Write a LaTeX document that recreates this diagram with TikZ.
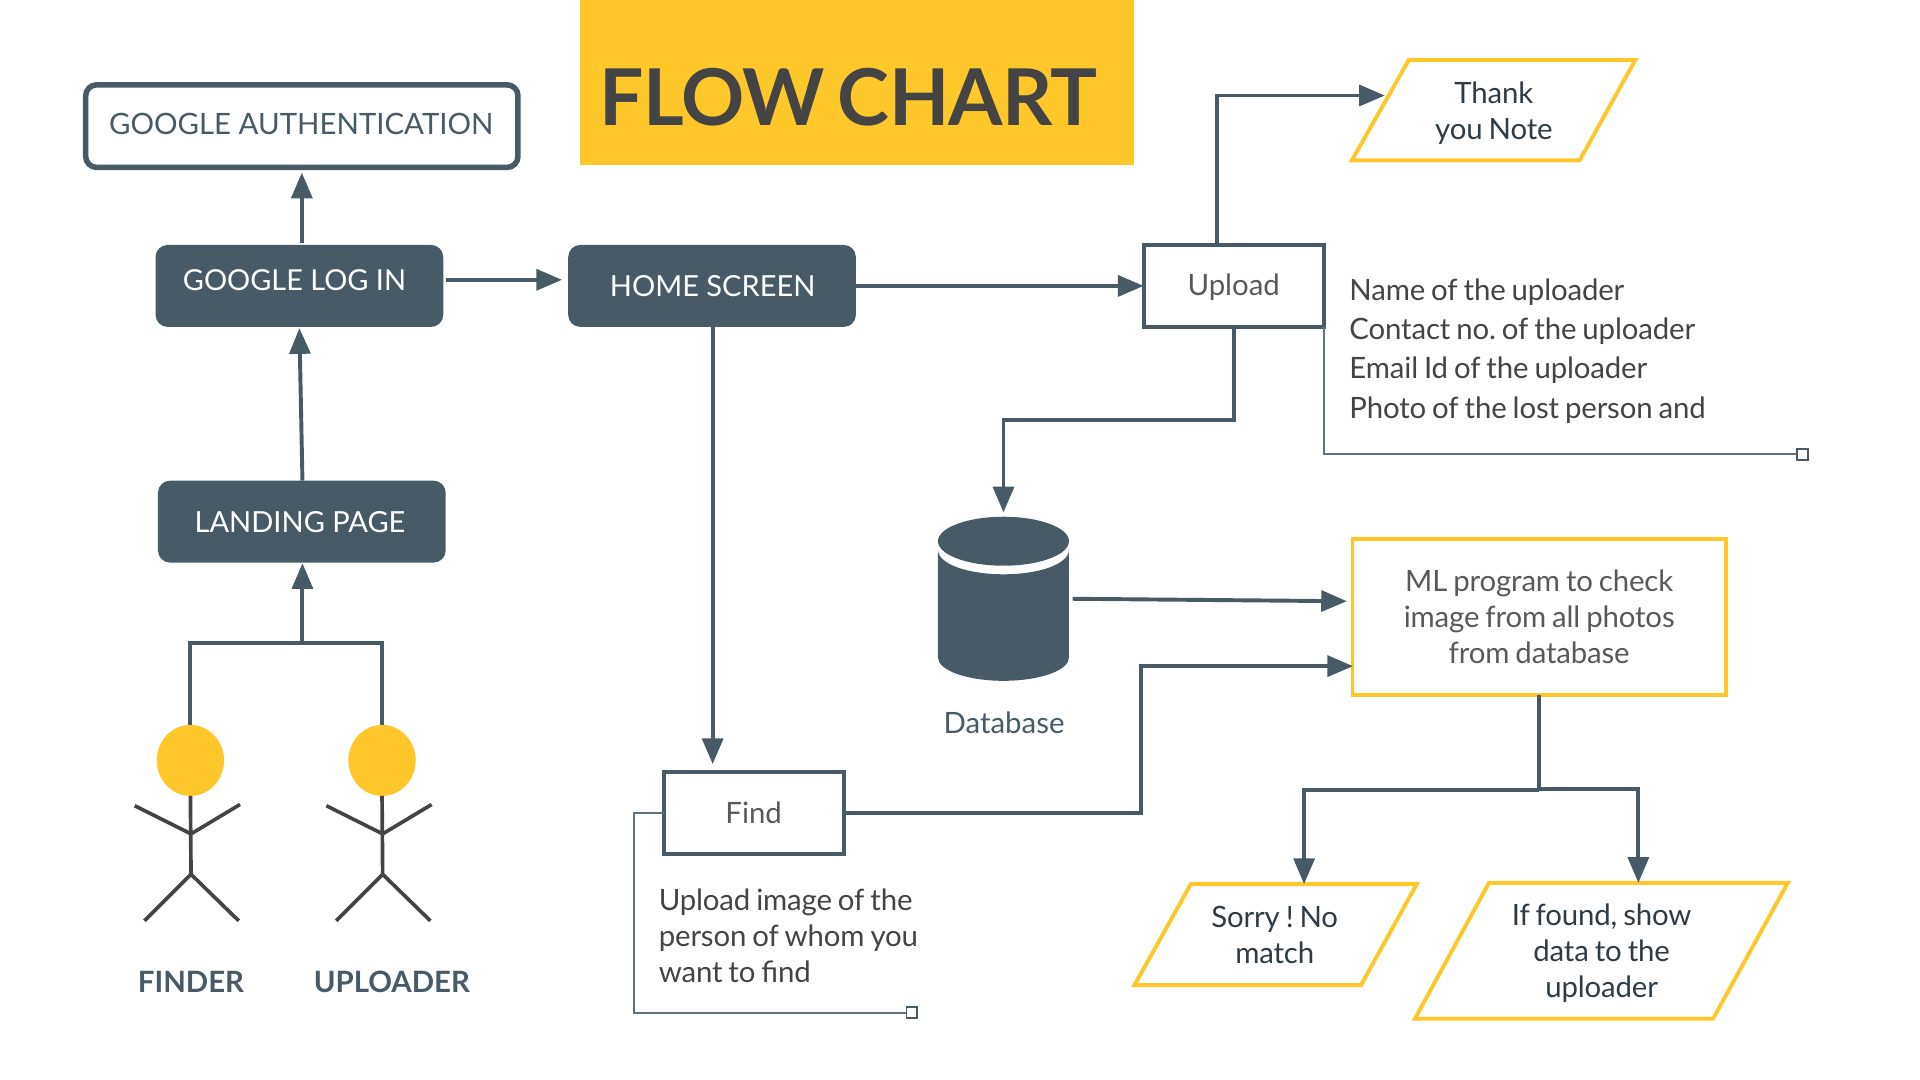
\documentclass[tikz,border=0pt]{standalone}
\usepackage{fontspec}
\setmainfont{Lato}
\newfontfamily\bodyf{Lato}[LetterSpace=-0.5,WordSpace=0.8]
\newfontfamily\titlef{Lato}[LetterSpace=-1,WordSpace=0.7]
\usetikzlibrary{arrows.meta,calc,shapes.geometric}
\definecolor{slate}{HTML}{475A66}
\definecolor{sun}{HTML}{FFC72A}
\definecolor{ink}{HTML}{444444}
\definecolor{mid}{HTML}{595959}
\definecolor{deep}{HTML}{2F3B45}
\tikzset{
  x=1pt,y=-1pt,
  every node/.style={inner sep=0pt,outer sep=0pt},
  txt/.style={font=\fontsize{24}{29.5}\selectfont},
  btxt/.style={font=\fontsize{24}{29.5}\selectfont\bodyf\frenchspacing},
  solidbox/.style={fill=slate,rounded corners=10pt,minimum width=#1,minimum height=67,txt,text=white},
  whitebox/.style={draw=slate,line width=3.2pt,minimum width=147,minimum height=67,txt,text=mid},
  conn/.style={draw=slate,line width=3.2pt,-{Triangle[length=21pt,width=17pt]}},
  plainconn/.style={draw=slate,line width=3.2pt},
  thin note/.style={draw=slate!85,line width=1.4pt},
  endsq/.style={draw=slate,line width=1.4pt,fill=white,minimum width=8.5,minimum height=9},
  para/.style={draw=sun,line width=3.2pt,line join=miter},
  figure line/.style={draw=ink,line width=3pt},
  note/.style={btxt,text=ink,align=left,anchor=west},
  ptext/.style={btxt,text=deep,align=center},
}
\begin{document}
\begin{tikzpicture}
\useasboundingbox (0,0) rectangle (1568,882);
% title
\node[fill=sun,minimum width=452,minimum height=134.5] (titlebox) at (700,67.25) {};
\node[font=\fontsize{64}{70}\selectfont\titlef\bfseries,text=ink] (title) at (693,79) {FLOW CHART};
% boxes
\node[draw=slate,line width=4.5pt,rounded corners=9pt,minimum width=353,minimum height=67.5] (gauth) at (246.5,103) {};
\node[txt,text=slate] (gauthl) at (246,101) {GOOGLE AUTHENTICATION};
\node[solidbox=235] (glogin) at (244.5,233.5) {};
\node[font=\fontsize{23.6}{29.5}\selectfont,text=white] (gloginl) at (240.5,228.5) {GOOGLE LOG IN};
\node[solidbox=235,font=\fontsize{23.7}{29.5}\selectfont] (home) at (581.5,233.5) {\hspace*{1pt}HOME SCREEN};
\node[solidbox=235,font=\fontsize{23.7}{29.5}\selectfont] (landing) at (246.5,426) {\hspace*{-3pt}LANDING PAGE};
\node[whitebox] (upload) at (1007.5,233.5) {\smash{\raisebox{-7.9pt}{Upload}}};
\node[whitebox] (find) at (615.5,664) {Find};
\node[draw=sun,line width=3.2pt,minimum width=305,minimum height=127] (ml) at (1257,504) {};
\node[btxt,text=mid,align=center] (mll) at (1257,503.5) {ML program to check\\image from all photos\\from database};
% parallelograms
\draw[para] (1150.5,49) -- (1335.5,49) -- (1290,131) -- (1104,131) -- cycle;
\node[ptext] (thank) at (1220,92.3) {Thank\\you Note};
\draw[para] (972.5,722) -- (1157,722) -- (1111.5,804.5) -- (926.5,804.5) -- cycle;
\node[ptext] (sorry) at (1041,763.5) {Sorry ! No\\match};
\draw[para] (1216,721) -- (1460,721) -- (1399,832) -- (1155.5,832) -- cycle;
\node[ptext] (found) at (1308,778.5) {If found, show\\data to the\\uploader};
% database
\fill[slate] (819.5,442) circle [x radius=53.5,y radius=20];
\fill[slate] (766,449) .. controls (766,460.5) and (790,469) .. (819.5,469) .. controls (849,469) and (873,460.5) .. (873,449) -- (873,537) .. controls (873,547.5) and (849,556) .. (819.5,556) .. controls (790,556) and (766,547.5) .. (766,537) -- cycle;
\node[txt,text=slate] (dbl) at (820,590.5) {Database};
% free ends
\coordinate (dbtop) at (819.5,418.5);
\coordinate (dbout) at (876,489);
\coordinate (mlin1) at (1100,491);
\coordinate (mlin2) at (1105,544);
\coordinate (thankin) at (1131,78);
\coordinate (uploadup) at (994,200);
\coordinate (sorryin) at (1065,722);
\coordinate (foundin) at (1338,721);
\coordinate (gauthin) at (246.5,141);
\coordinate (gloginup) at (246.5,198.5);
\coordinate (gloginr) at (364,228.5);
\coordinate (homel) at (459,228.5);
\coordinate (gloginb) at (244.5,268);
\coordinate (landt) at (247,392.5);
\coordinate (landb) at (247,460);
\coordinate (findtop) at (582,624);
% people
\node[fill=sun,ellipse,minimum width=55,minimum height=58] (h1) at (155.5,621) {};
\node[fill=sun,ellipse,minimum width=55,minimum height=58] (h2) at (312,621) {};
\coordinate (j) at (247,525);
\draw[plainconn] (h1.north) -- (155.5,525) -- (312,525) -- (h2.north);
\draw[conn] (j) -- (landb);
\foreach \n/\cx in {h1/156,h2/312.5}{
  \draw[figure line] (\n.south) -- (\cx,714);
  \draw[figure line] (\cx-46,658) -- (\cx,681) -- (\cx+40,657);
  \draw[figure line] (\cx-38,752) -- (\cx,714) -- (\cx+39,752);
}
\node[font=\fontsize{24}{29}\selectfont\bfseries,text=slate] (finder) at (156,801.5) {FINDER};
\node[font=\fontsize{24}{29}\selectfont\bfseries,text=slate] (uploader) at (320,801.5) {UPLOADER};
% connectors
\draw[conn] (gloginup) -- (gauthin);
\draw[conn] (gloginr) -- (homel);
\draw[conn] (landt) -- (gloginb);
\draw[conn] (home.east) -- (upload.west);
\draw[conn] (home.south -| findtop) -- (findtop);
\draw[conn] (uploadup) |- (thankin);
\draw[conn] (upload.south) -- (1007.5,343) -| (dbtop);
\draw[conn] (dbout) -- (mlin1);
\draw[conn] (find.east) -- (932,664) |- (mlin2);
\draw[plainconn] (ml.south) -- (1257,645);
\draw[conn] (1257,645.5) -| (sorryin);
\draw[conn] (1257,644) -| (foundin);
% notes
\node[note] (uplist) at (1102,286.7) {Name of the uploader\\[2.5pt]Contact no. of the uploader\\[2.5pt]Email Id of the uploader\\[2.5pt]Photo of the lost person and};
\node[endsq] (sq1) at (1472,371) {};
\draw[thin note] (upload.south east) -- (1081,371) -- (sq1.west);
\node[note] (findnote) at (538,764) {Upload image of the\\person of whom you\\want to find};
\node[endsq] (sq2) at (744.5,827) {};
\draw[thin note] (find.west) -- (518,664) -- (518,827) -- (sq2.west);
\end{tikzpicture}
\end{document}
